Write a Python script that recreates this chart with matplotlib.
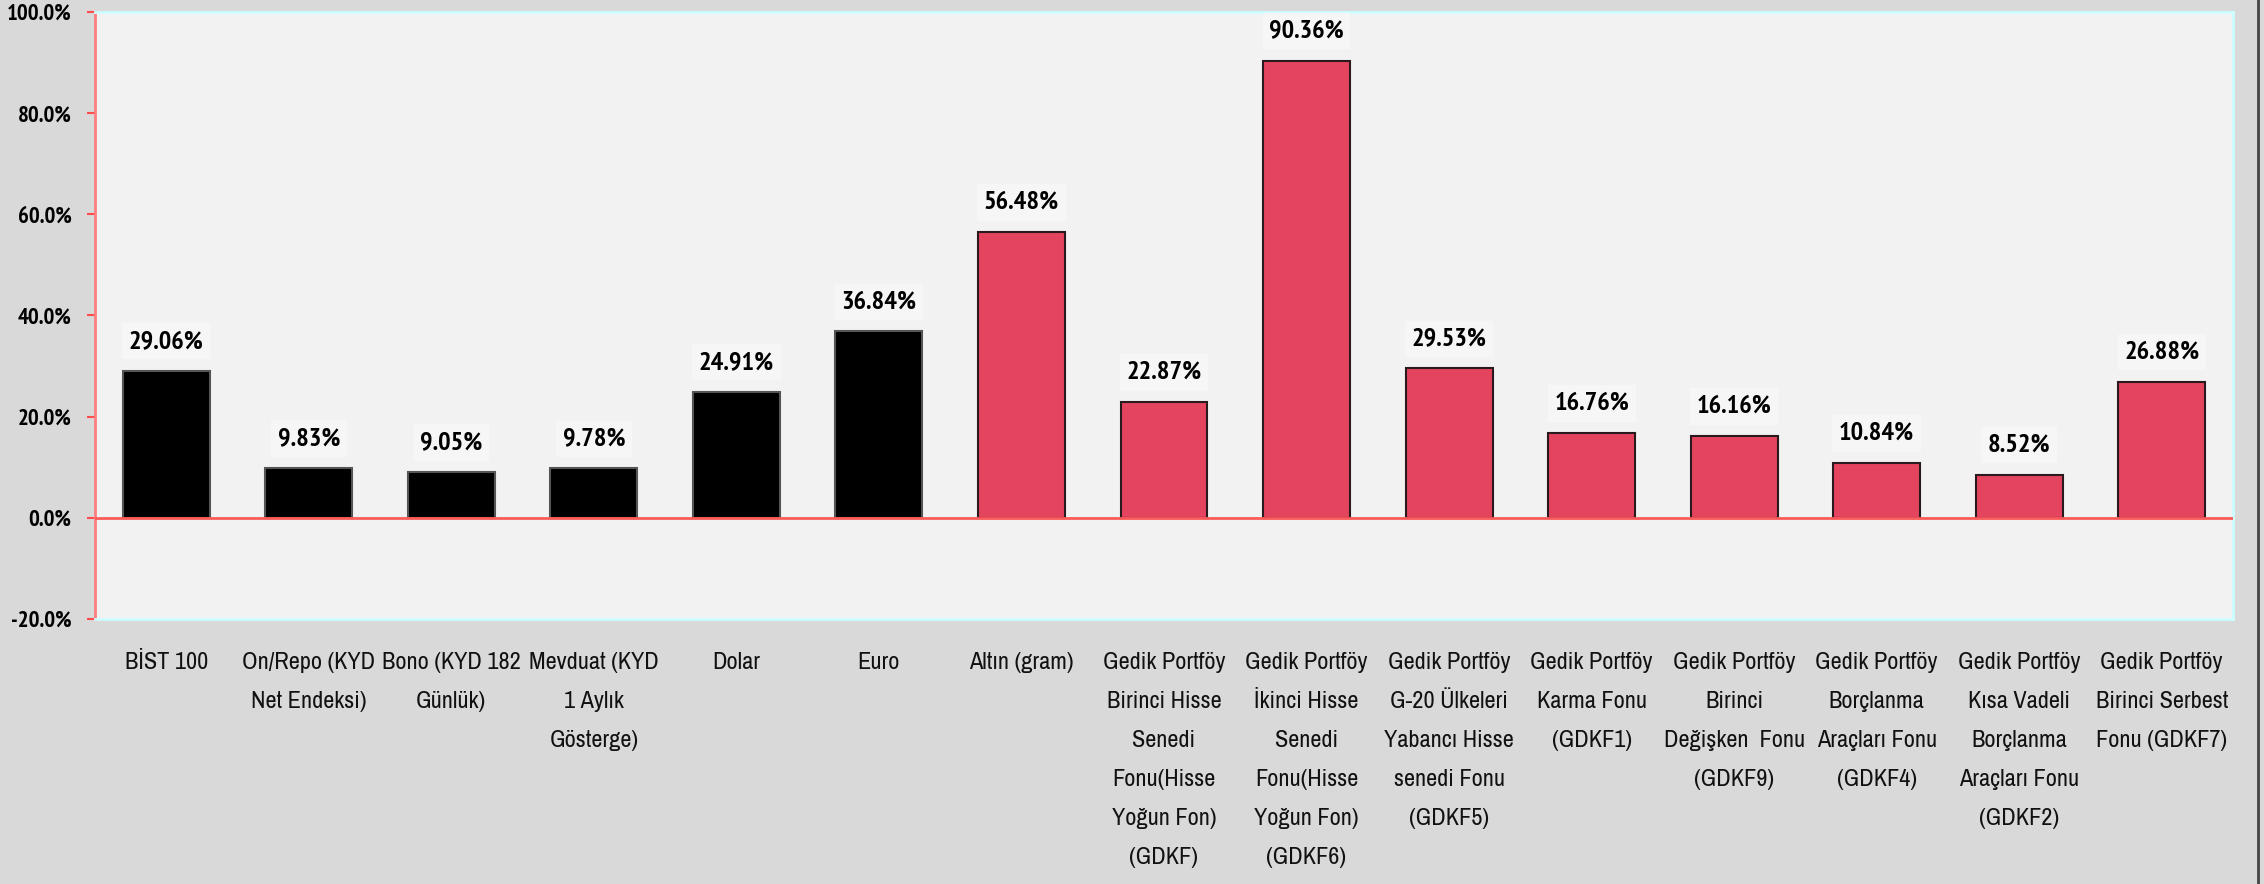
import matplotlib
matplotlib.use("Agg")
import matplotlib.pyplot as plt
from matplotlib import font_manager
from matplotlib.font_manager import FontProperties
from matplotlib.ticker import FuncFormatter, MultipleLocator
from matplotlib.lines import Line2D


def narrow_font(bold):
    # look for a narrow / condensed face, Liberation Sans Narrow first
    best = None
    for f in font_manager.fontManager.ttflist:
        fn = f.fname.lower()
        is_narrow = ('narrow' in fn or 'condensed' in fn
                     or f.stretch in ('condensed', 'semi-condensed'))
        if not is_narrow or 'mono' in fn or 'serif' in fn and 'sans' not in fn:
            continue
        is_bold = f.weight in ('bold', 700) or 'bold' in fn
        if is_bold != bold or 'italic' in fn or 'oblique' in fn:
            continue
        rank = 0 if 'narrow' in fn else 1
        if best is None or rank < best[0]:
            best = (rank, f.fname)
    return best[1] if best else None


reg_file = narrow_font(False)
bold_file = narrow_font(True)

categories = [
    "BİST 100",
    "On/Repo (KYD\nNet Endeksi)",
    "Bono (KYD 182\nGünlük)",
    "Mevduat (KYD\n1 Aylık\nGösterge)",
    "Dolar",
    "Euro",
    "Altın (gram)",
    "Gedik Portföy\nBirinci Hisse\nSenedi\nFonu(Hisse\nYoğun Fon)\n(GDKF)",
    "Gedik Portföy\nİkinci Hisse\nSenedi\nFonu(Hisse\nYoğun Fon)\n(GDKF6)",
    "Gedik Portföy\nG-20 Ülkeleri\nYabancı Hisse\nsenedi Fonu\n(GDKF5)",
    "Gedik Portföy\nKarma Fonu\n(GDKF1)",
    "Gedik Portföy\nBirinci\nDeğişken  Fonu\n(GDKF9)",
    "Gedik Portföy\nBorçlanma\nAraçları Fonu\n(GDKF4)",
    "Gedik Portföy\nKısa Vadeli\nBorçlanma\nAraçları Fonu\n(GDKF2)",
    "Gedik Portföy\nBirinci Serbest\nFonu (GDKF7)",
]
returns = [29.06, 9.83, 9.05, 9.78, 24.91, 36.84, 56.48, 22.87, 90.36,
           29.53, 16.76, 16.16, 10.84, 8.52, 26.88]
is_fund = [False] * 6 + [True] * 9

if reg_file:
    cat_fp = FontProperties(fname=reg_file, size=17.5)
else:
    cat_fp = FontProperties(family='Liberation Sans', size=14.5)
if bold_file:
    val_fp = FontProperties(fname=bold_file, size=19)
    tick_fp = FontProperties(fname=bold_file, size=16.5)
else:
    val_fp = FontProperties(family='Liberation Sans', weight='bold', size=17)
    tick_fp = FontProperties(family='Liberation Sans', weight='bold', size=12.5)

fig = plt.figure(figsize=(22.64, 8.84), dpi=100, facecolor='#d9d9d9')
ax = fig.add_axes([0.04196, 0.2998, 0.94434, 0.68663], facecolor='#f2f2f2')

x = list(range(len(categories)))
colors = ['#e5445f' if f else '#000000' for f in is_fund]
edges = ['#2a1a1e' if f else '#555555' for f in is_fund]
bars = ax.bar(x, returns, width=0.61, color=colors, edgecolor=edges,
              linewidth=1.5, zorder=3)

for xi, v in zip(x, returns):
    ax.annotate(f"{v:.2f}%", (xi, v), xytext=(0, 13), textcoords='offset points',
                ha='center', va='bottom', fontproperties=val_fp, color='#000000',
                bbox=dict(boxstyle='square,pad=0.25', facecolor='#f6f6f6',
                          edgecolor='none'), zorder=4)

ax.axhline(0, color='#ff5a5a', linewidth=2, zorder=4)

ax.set_xlim(-0.5, len(categories) - 0.5)
ax.set_ylim(-20, 100)
ax.yaxis.set_major_locator(MultipleLocator(20))
ax.yaxis.set_major_formatter(FuncFormatter(lambda v, p: f"{v:.1f}%"))
ax.set_xticks(x)
ax.set_xticklabels(categories, fontproperties=cat_fp, linespacing=2.05, va='top')
ax.tick_params(axis='x', length=0, pad=24, colors='#111111')
ax.tick_params(axis='y', length=6, width=1.5, color='#ff4d4d', pad=11,
               labelcolor='#000000')
for t in ax.get_yticklabels():
    t.set_fontproperties(tick_fp)

ax.spines['left'].set_color('#ff7f7f')
ax.spines['left'].set_linewidth(2)
for s in ['top', 'right', 'bottom']:
    ax.spines[s].set_color('#ccffff')
    ax.spines[s].set_linewidth(2)

fig.add_artist(Line2D([0.9974, 0.9974], [0, 1], color='#444444', linewidth=2,
                      transform=fig.transFigure))

fig.savefig('out.png', dpi=100, facecolor=fig.get_facecolor())
